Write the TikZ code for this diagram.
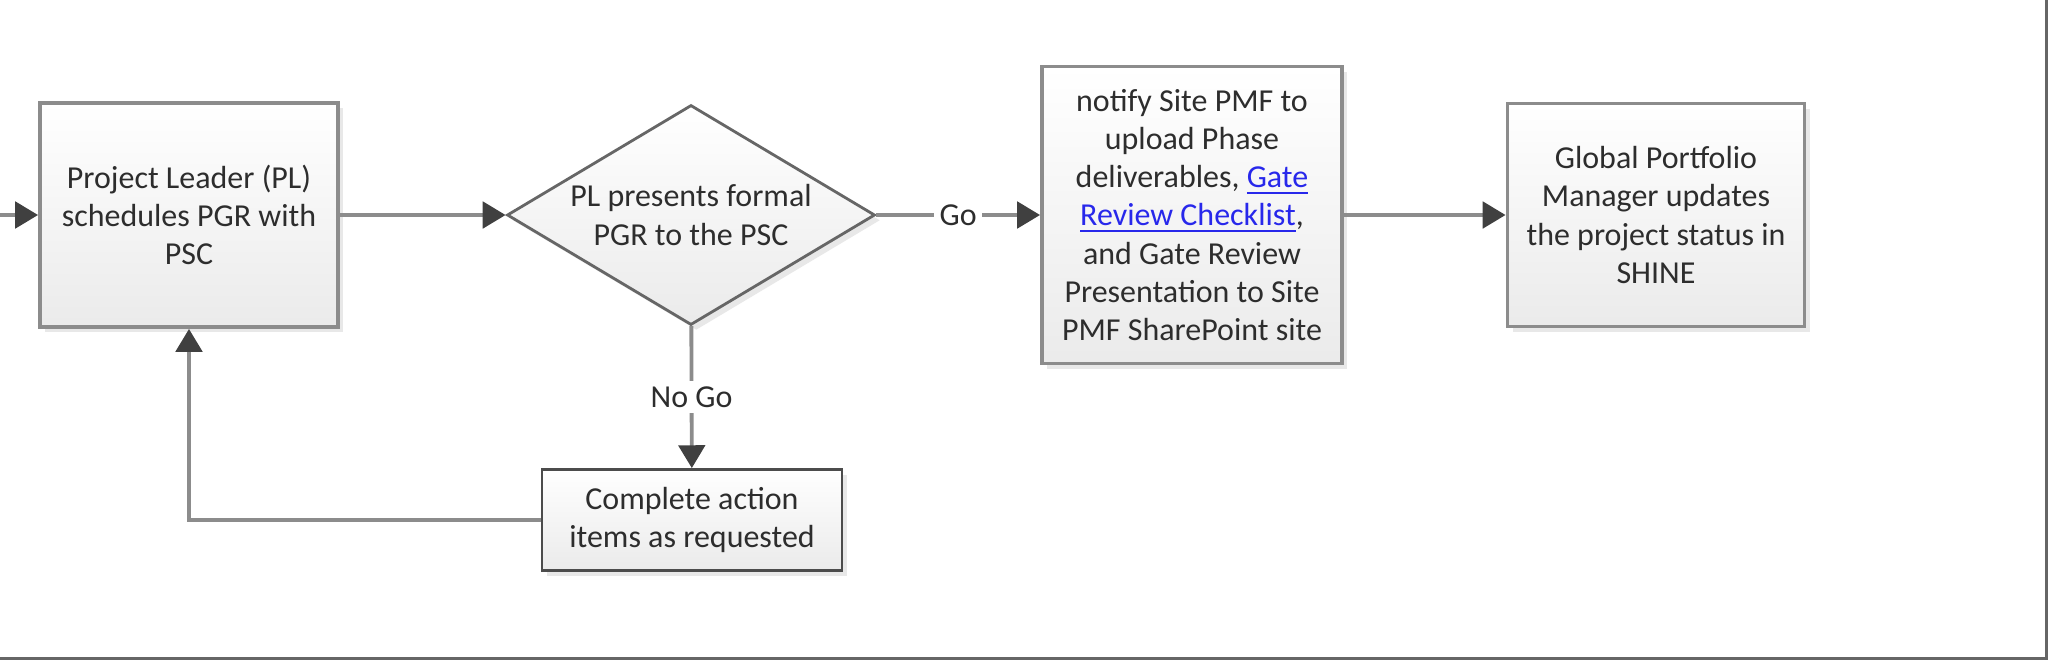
\documentclass[tikz,border=0pt]{standalone}
\usepackage{fontspec}
\setmainfont{Carlito}
\usetikzlibrary{arrows.meta,positioning,shapes.geometric,shadows}
\definecolor{linkblue}{RGB}{40,40,235}
\definecolor{txtgray}{RGB}{45,45,45}

\begin{document}
\begin{tikzpicture}[
  font=\fontsize{9.1}{10.9}\selectfont, text=txtgray,
  proc/.style={draw=black!45, line width=1.1pt, top color=white, bottom color=black!8, align=center,
               inner sep=0pt, drop shadow={opacity=0.18, shadow xshift=1.5pt, shadow yshift=-1.5pt}},
  small/.style={proc, draw=black!70, line width=0.8pt},
  dec/.style={diamond, aspect=1.67, draw=black!60, line width=0.8pt, top color=white, bottom color=black!8,
              align=center, inner sep=0pt, minimum width=3.68cm, minimum height=2.20cm,
              drop shadow={opacity=0.18, shadow xshift=1.5pt, shadow yshift=-1.5pt}},
  flow/.style={draw=black!45, line width=1.1pt, -{Triangle[length=6.5pt,width=7.5pt,color=black!75]}},
  lbl/.style={fill=white, inner sep=1.5pt, text=txtgray}
]
\useasboundingbox (0,0) rectangle (20.48,-6.60);
\coordinate (in) at (0,-2.15);
\node[proc, minimum width=2.98cm, minimum height=2.24cm] (sched) at (1.89,-2.15)
  {Project Leader (PL)\\ schedules PGR with\\ PSC};
\node[dec] (pres) at (6.91,-2.15) {PL presents formal\\ PGR to the PSC};
\node[proc, minimum width=3.00cm, minimum height=2.97cm] (notify) at (11.92,-2.15)
  {notify Site PMF to\\ upload Phase\\ deliverables, \textcolor{linkblue}{\underline{Gate}}\\
   \textcolor{linkblue}{\underline{Review Checklist}},\\ and Gate Review\\ Presentation to Site\\ PMF SharePoint site};
\node[proc, minimum width=2.97cm, minimum height=2.23cm] (gpm) at (16.56,-2.15)
  {Global Portfolio\\ Manager updates\\ the project status in\\ SHINE};
\node[small, minimum width=3.00cm, minimum height=1.01cm] (action) at (6.92,-5.20)
  {Complete action\\ items as requested};
\draw[flow] (in) -- (sched);
\draw[flow] (sched) -- (pres);
\draw[flow] (pres) -- node[lbl] {Go} (notify);
\draw[flow] (notify) -- (gpm);
\draw[flow] (pres) -- node[lbl] {No Go} (action);
\draw[flow] (action.west) -| (sched.south);
% page frame
\draw[black!60, line width=0.7pt] (20.465,0) -- (20.465,-6.585) -- (0,-6.585);
\end{tikzpicture}
\end{document}
